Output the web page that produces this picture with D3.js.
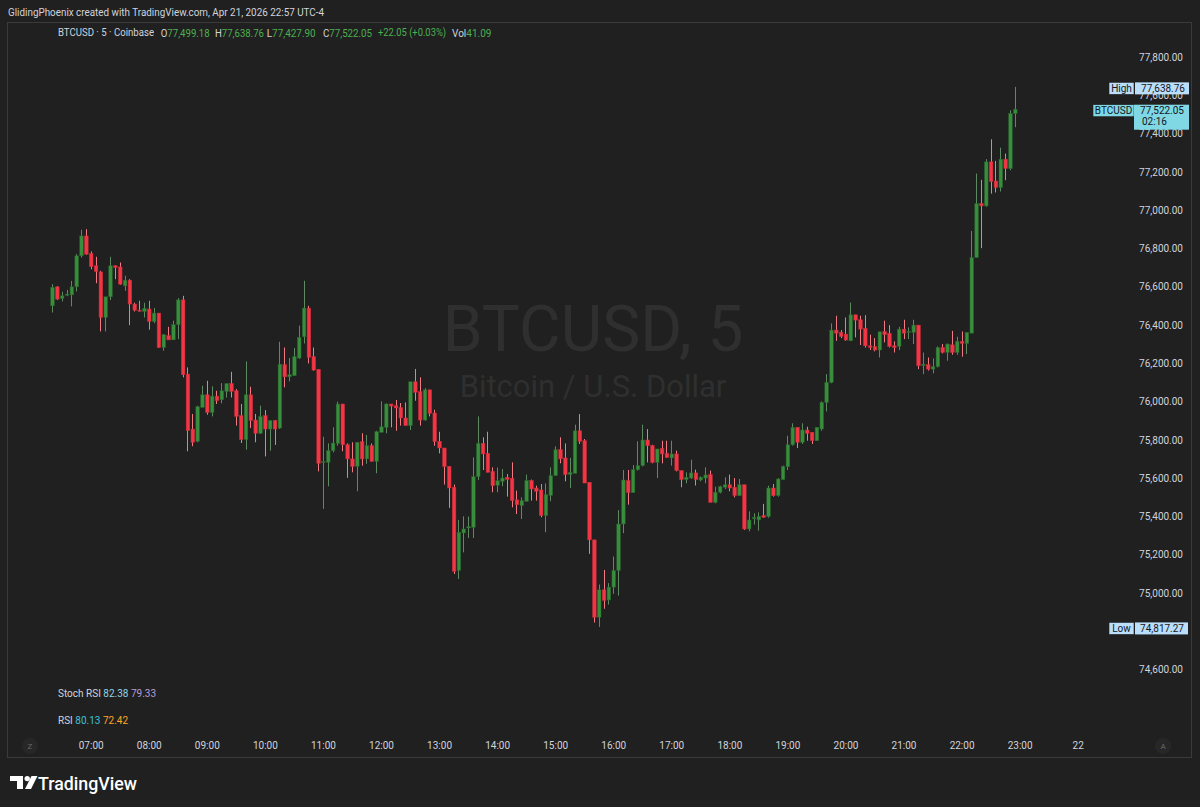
<!DOCTYPE html>
<html>
<head>
<meta charset="utf-8">
<script src="https://cdn.jsdelivr.net/npm/d3@7"></script>
<style>
  body { margin: 0; background: #202020; }
  svg { display: block; font-family: Roboto, "Liberation Sans", sans-serif; }
</style>
</head>
<body>
<script>
// BTCUSD 5 min candles, Coinbase, Apr 21 2026 from 06:20
const startTime = new Date(2026, 3, 21, 6, 20)

const opens = [76495,76594,76533,76550,76552,76594,76756,76860,76768,76704,76672,76434,76542,76704,76698,76599,76629,76504,76472,76465,
  76478,76413,76457,76277,76339,76317,76396,76526,76138,75851,75787,75964,76030,75938,76023,76004,76047,76089,76051,75921,
  75796,76030,75898,75829,75921,75851,75895,75856,76187,76124,76130,76222,76333,76483,76229,76163,75677,75677,75738,75776,
  75982,75769,75695,75656,75785,75695,75764,75682,75834,75860,75982,75973,75964,75909,75869,76098,76046,75898,76056,75935,
  75787,75752,75656,75547,75112,75308,75334,75338,75602,75776,75724,75630,75557,75578,75599,75594,75481,75451,75473,75582,
  75543,75533,75399,75504,75608,75743,75700,75613,75620,75842,75790,75573,75272,74868,75011,74958,75025,75112,75355,75581,
  75519,75638,75660,75794,75764,75677,75750,75724,75700,75721,75634,75587,75595,75622,75585,75595,75613,75468,75521,75547,
  75560,75547,75503,75560,75329,75382,75376,75399,75394,75543,75503,75587,75654,75769,75860,75782,75846,75834,75790,75851,
  75990,76095,76368,76356,76347,76312,76448,76422,76377,76286,76281,76264,76361,76351,76286,76283,76373,76356,76356,76394,
  76182,76187,76164,76177,76277,76251,76291,76251,76309,76298,76352,76747,77029,77017,77247,77147,77113,77261,77212,77499.18]

const highs = [76608,76598,76568,76578,76625,76765,76892,76895,76779,76751,76678,76542,76751,76706,76721,76652,76634,76511,76521,76511,
  76521,76483,76457,76347,76385,76417,76535,76547,76173,75930,75973,76077,76103,76074,76051,76091,76089,76150,76060,75982,
  76204,76072,75930,75973,75950,75898,75898,76307,76277,76222,76274,76391,76626,76495,76277,76163,75811,75776,75860,75994,
  75982,75776,75782,75782,75829,75820,75776,75842,75996,75985,75982,76003,75987,75990,76098,76165,76121,76065,76056,75952,
  75837,75752,75656,75561,75376,75395,75394,75703,75917,75808,75837,75651,75650,75642,75616,75677,75529,75494,75613,75587,
  75555,75564,75567,75651,75761,75808,75776,75700,75874,75929,75799,75573,75272,75039,75115,75046,75185,75428,75637,75637,
  75663,75787,75874,75851,75769,75747,75790,75790,75790,75738,75634,75625,75691,75639,75604,75651,75634,75550,75555,75599,
  75613,75595,75590,75560,75421,75411,75416,75460,75555,75564,75595,75660,75816,75881,75860,75881,75863,75834,75860,75996,
  76138,76403,76443,76368,76434,76512,76448,76443,76446,76344,76326,76359,76417,76394,76309,76385,76422,76382,76422,76394,
  76251,76225,76220,76283,76295,76298,76364,76333,76361,76356,76886,77186,77153,77261,77365,77252,77321,77290,77516,77638.76]

const lows = [76460,76525,76518,76545,76492,76570,76747,76761,76686,76613,76361,76361,76525,76634,76605,76573,76394,76465,76465,76434,
  76370,76404,76274,76260,76317,76317,76321,76121,75735,75761,75782,75964,75926,75917,75982,75985,76016,76016,75869,75778,
  75743,75856,75782,75825,75708,75738,75768,75851,76069,76100,76130,76217,76298,76194,76156,75630,75434,75552,75729,75764,
  75735,75596,75625,75526,75660,75669,75682,75620,75834,75829,75860,75842,75869,75869,75846,75999,75869,75895,75917,75764,
  75724,75561,75439,75094,75068,75207,75282,75282,75585,75637,75625,75521,75521,75552,75498,75442,75407,75381,75473,75477,
  75477,75390,75312,75474,75608,75672,75578,75543,75620,75773,75569,75199,74840,74817.27,74912,74934,74990,74981,75307,75456,
  75519,75634,75656,75677,75672,75595,75672,75700,75660,75630,75547,75568,75590,75556,75578,75568,75468,75463,75515,75538,
  75526,75494,75503,75324,75317,75352,75320,75387,75387,75498,75498,75587,75637,75764,75752,75773,75790,75773,75790,75842,
  75943,76090,76312,76326,76312,76312,76330,76290,76277,76264,76257,76225,76304,76277,76251,76264,76321,76321,76295,76164,
  76138,76156,76142,76173,76246,76208,76239,76239,76229,76243,76352,76747,76796,77012,77081,77087,77092,77151,77203,77427.90]

const closes = [76591,76530,76547,76556,76594,76756,76860,76765,76700,76674,76434,76542,76704,76695,76608,76629,76504,76472,76470,76481,
  76413,76457,76277,76344,76317,76396,76526,76135,75843,75782,75968,76030,75938,76023,75999,76051,76089,76048,75917,75796,
  76030,75895,75829,75917,75851,75895,75851,76190,76124,76135,76229,76330,76483,76225,76159,75672,75681,75738,75778,75982,
  75769,75695,75656,75782,75695,75764,75682,75837,75863,75982,75971,75961,75909,75869,76098,76043,75898,76056,75933,75785,
  75752,75655,75543,75108,75312,75329,75341,75602,75776,75721,75625,75555,75581,75595,75588,75477,75456,75477,75582,75538,
  75526,75399,75508,75608,75743,75695,75613,75625,75842,75787,75569,75272,74868,75011,74955,75025,75112,75355,75585,75519,
  75639,75660,75794,75764,75677,75747,75721,75703,75721,75634,75587,75599,75622,75587,75599,75611,75468,75521,75550,75560,
  75543,75503,75560,75329,75376,75390,75395,75390,75543,75503,75590,75656,75769,75860,75782,75846,75829,75790,75860,75990,
  76095,76368,76352,76335,76316,76448,76420,76373,76286,76277,76264,76359,76344,76283,76277,76373,76352,76361,76394,76182,
  76190,76164,76177,76277,76251,76295,76251,76309,76298,76356,76747,77029,77017,77247,77144,77113,77261,77212,77500,77522.05]

const priceTicks = [74600,74800,75000,75200,75400,75600,75800,76000,76200,76400,76600,76800,77000,77200,77400,77600,77800]
const timeLabels = ['07:00','08:00','09:00','10:00','11:00','12:00','13:00','14:00','15:00','16:00','17:00','18:00','19:00','20:00','21:00','22:00','23:00','22']

const sessionHigh = 77638.76
const sessionLow = 74817.27
const lastPrice = 77522.05
const countdown = '02:16'
const legendParts = [
  ['O', '77,499.18', 160.7], ['H', '77,638.76', 215], ['L', '77,427.90', 266.7], ['C', '77,522.05', 323]
]

const W = 1200, H = 807
const BG = '#202020', TXT = '#d1d4dc'
const UP = '#388e3c', DOWN = '#f23645'

const svg = d3.select('body').append('svg').attr('width', W).attr('height', H)
svg.append('rect').attr('width', W).attr('height', H).attr('fill', BG)

// header
svg.append('text').attr('x', 8).attr('y', 15.5).attr('fill', TXT).attr('font-size', 10)
  .attr('textLength', 316).attr('lengthAdjust', 'spacingAndGlyphs')
  .text('GlidingPhoenix created with TradingView.com, Apr 21, 2026 22:57 UTC-4')

// frame
svg.append('rect').attr('x', 7.5).attr('y', 22.5).attr('width', 1184).attr('height', 735)
  .attr('fill', 'none').attr('stroke', '#3a3a3a')

// scales
let candles = opens.map((o, i) => ({
  t: d3.timeMinute.offset(startTime, 5 * i), o: o, h: highs[i], l: lows[i], c: closes[i]
}))
let x = d3.scaleTime()
  .domain([startTime, d3.timeMinute.offset(startTime, 5 * (opens.length - 1))])
  .range([52, 1014.8])
let y = d3.scaleLinear().domain([74600, 77800]).range([668.5, 56])

// watermark
svg.append('text').attr('x', 593).attr('y', 351).attr('text-anchor', 'middle')
  .attr('font-size', 64).attr('fill', '#2f2f2f').text('BTCUSD, 5')
svg.append('text').attr('x', 593).attr('y', 397).attr('text-anchor', 'middle')
  .attr('font-size', 31).attr('fill', '#2f2f2f').text('Bitcoin / U.S. Dollar')

// price axis; labels fully covered by the Low tag are not drawn
let shownTicks = priceTicks.filter(p => Math.abs(y(p) - y(sessionLow)) > 5)
let yAxis = d3.axisLeft(y).tickValues(shownTicks).tickSize(0).tickPadding(0)
  .tickFormat(d => d3.format(',.2f')(d))
let gy = svg.append('g').attr('transform', 'translate(1183,1)').call(yAxis)
gy.select('.domain').remove()
gy.selectAll('text').attr('fill', TXT).attr('font-size', 10).attr('font-family', 'Roboto, sans-serif')

// time axis
let hours = d3.timeHour.range(new Date(2026, 3, 21, 7), new Date(2026, 3, 22, 0, 30))
let xAxis = d3.axisBottom(x).tickValues(hours).tickSize(0).tickPadding(0)
  .tickFormat((d, i) => timeLabels[i])
let gx = svg.append('g').attr('transform', 'translate(0,742)').call(xAxis)
gx.select('.domain').remove()
gx.selectAll('text').attr('fill', TXT).attr('font-size', 10).attr('font-family', 'Roboto, sans-serif')

// candles
let bw = 3.6
let g = svg.append('g')
g.selectAll('line.wick').data(candles).enter().append('line')
  .attr('class', 'wick')
  .attr('x1', d => Math.round(x(d.t)) + 0.5).attr('x2', d => Math.round(x(d.t)) + 0.5)
  .attr('y1', d => y(d.h)).attr('y2', d => y(d.l))
  .attr('stroke', d => d.c >= d.o ? '#5d8a60' : '#f37a82').attr('stroke-width', 1)
g.selectAll('rect.body').data(candles).enter().append('rect')
  .attr('class', 'body')
  .attr('x', d => x(d.t) - bw / 2 + 0.5).attr('width', bw)
  .attr('y', d => y(Math.max(d.o, d.c)))
  .attr('height', d => Math.max(1, Math.abs(y(d.o) - y(d.c))))
  .attr('fill', d => d.c >= d.o ? UP : DOWN)
  .attr('stroke', d => d.c >= d.o ? '#27632a' : '#c92b38').attr('stroke-width', 0.5)

// legend line
let lg = svg.append('g').attr('font-size', 10).attr('dominant-baseline', 'middle')
lg.append('text').attr('x', 58).attr('y', 33.5).attr('fill', TXT)
  .attr('textLength', 96).attr('lengthAdjust', 'spacingAndGlyphs').text('BTCUSD · 5 · Coinbase')
legendParts.forEach(p => {
  let t = lg.append('text').attr('x', p[2]).attr('y', 33.5)
    .attr('textLength', 49).attr('lengthAdjust', 'spacingAndGlyphs')
  t.append('tspan').attr('fill', TXT).text(p[0])
  t.append('tspan').attr('fill', '#4caf50').text(p[1])
})
lg.append('text').attr('x', 378).attr('y', 33.5).attr('fill', '#4caf50')
  .attr('textLength', 68).attr('lengthAdjust', 'spacingAndGlyphs').text('+22.05 (+0.03%)')
let vt = lg.append('text').attr('x', 452).attr('y', 33.5)
vt.append('tspan').attr('fill', TXT).text('Vol')
vt.append('tspan').attr('fill', '#4caf50').text('41.09')

// indicator legends
let il = svg.append('g').attr('font-size', 10).attr('dominant-baseline', 'middle')
let s1 = il.append('text').attr('x', 58).attr('y', 694)
s1.append('tspan').attr('fill', TXT).text('Stoch RSI ')
s1.append('tspan').attr('fill', '#8fd3e6').text(' 82.38 ')
s1.append('tspan').attr('fill', '#b39ddb').text(' 79.33')
let s2 = il.append('text').attr('x', 58).attr('y', 721)
s2.append('tspan').attr('fill', TXT).text('RSI ')
s2.append('tspan').attr('fill', '#3fc1d6').text(' 80.13 ')
s2.append('tspan').attr('fill', '#ffa726').text(' 72.42')

// price labels
function tag(label, price, fill, lw) {
  let cy = y(price) + 1.5
  let tg = svg.append('g').attr('font-size', 10).attr('dominant-baseline', 'middle')
  tg.append('rect').attr('x', 1134 - lw).attr('y', cy - 6).attr('width', lw).attr('height', 12)
    .attr('fill', fill).attr('stroke', '#202020').attr('stroke-width', 0.6)
  tg.append('text').attr('x', 1134 - lw / 2).attr('y', cy + 0.5).attr('text-anchor', 'middle')
    .attr('fill', '#131722').text(label)
  return tg
}
let hiTag = tag('High', sessionHigh, '#bbdefb', 25)
hiTag.append('rect').attr('x', 1135).attr('y', y(sessionHigh) - 4.5).attr('width', 54).attr('height', 12)
  .attr('fill', '#bbdefb')
hiTag.append('text').attr('x', 1185).attr('y', y(sessionHigh) + 2).attr('text-anchor', 'end')
  .attr('fill', '#131722').text(d3.format(',.2f')(sessionHigh))

let loTag = tag('Low', sessionLow, '#bbdefb', 25)
loTag.append('rect').attr('x', 1135).attr('y', y(sessionLow) - 4.5).attr('width', 53).attr('height', 12)
  .attr('fill', '#bbdefb')
loTag.append('text').attr('x', 1184).attr('y', y(sessionLow) + 2).attr('text-anchor', 'end')
  .attr('fill', '#131722').text(d3.format(',.2f')(sessionLow))

let lastTag = tag('BTCUSD', lastPrice, '#7fd8e4', 41)
lastTag.append('rect').attr('x', 1134).attr('y', y(lastPrice) - 4.5).attr('width', 55).attr('height', 25)
  .attr('fill', '#7fd8e4')
lastTag.append('text').attr('x', 1184).attr('y', y(lastPrice) + 2).attr('text-anchor', 'end')
  .attr('fill', '#131722').text(d3.format(',.2f')(lastPrice))
lastTag.append('text').attr('x', 1142).attr('y', y(lastPrice) + 13).attr('fill', '#131722').text(countdown)

// corner buttons
;[[30, 'Z'], [1163, 'A']].forEach(b => {
  svg.append('circle').attr('cx', b[0]).attr('cy', 746).attr('r', 8).attr('fill', '#272727')
  svg.append('text').attr('x', b[0]).attr('y', 749).attr('text-anchor', 'middle')
    .attr('font-size', 8).attr('fill', '#6a6a6a').text(b[1])
})

// logo
let logo = svg.append('g').attr('fill', '#ffffff')
logo.append('path').attr('d', 'M10,776 h13 v13 h-6 v-8 h-7 z')
logo.append('circle').attr('cx', 27.2).attr('cy', 778.6).attr('r', 2.7)
logo.append('path').attr('d', 'M31.5,776 h6 l-6.5,13 h-6 z')
logo.append('text').attr('x', 38).attr('y', 789.5).attr('font-size', 18).attr('font-weight', 500)
  .attr('textLength', 99).attr('lengthAdjust', 'spacingAndGlyphs').text('TradingView')
</script>
</body>
</html>
